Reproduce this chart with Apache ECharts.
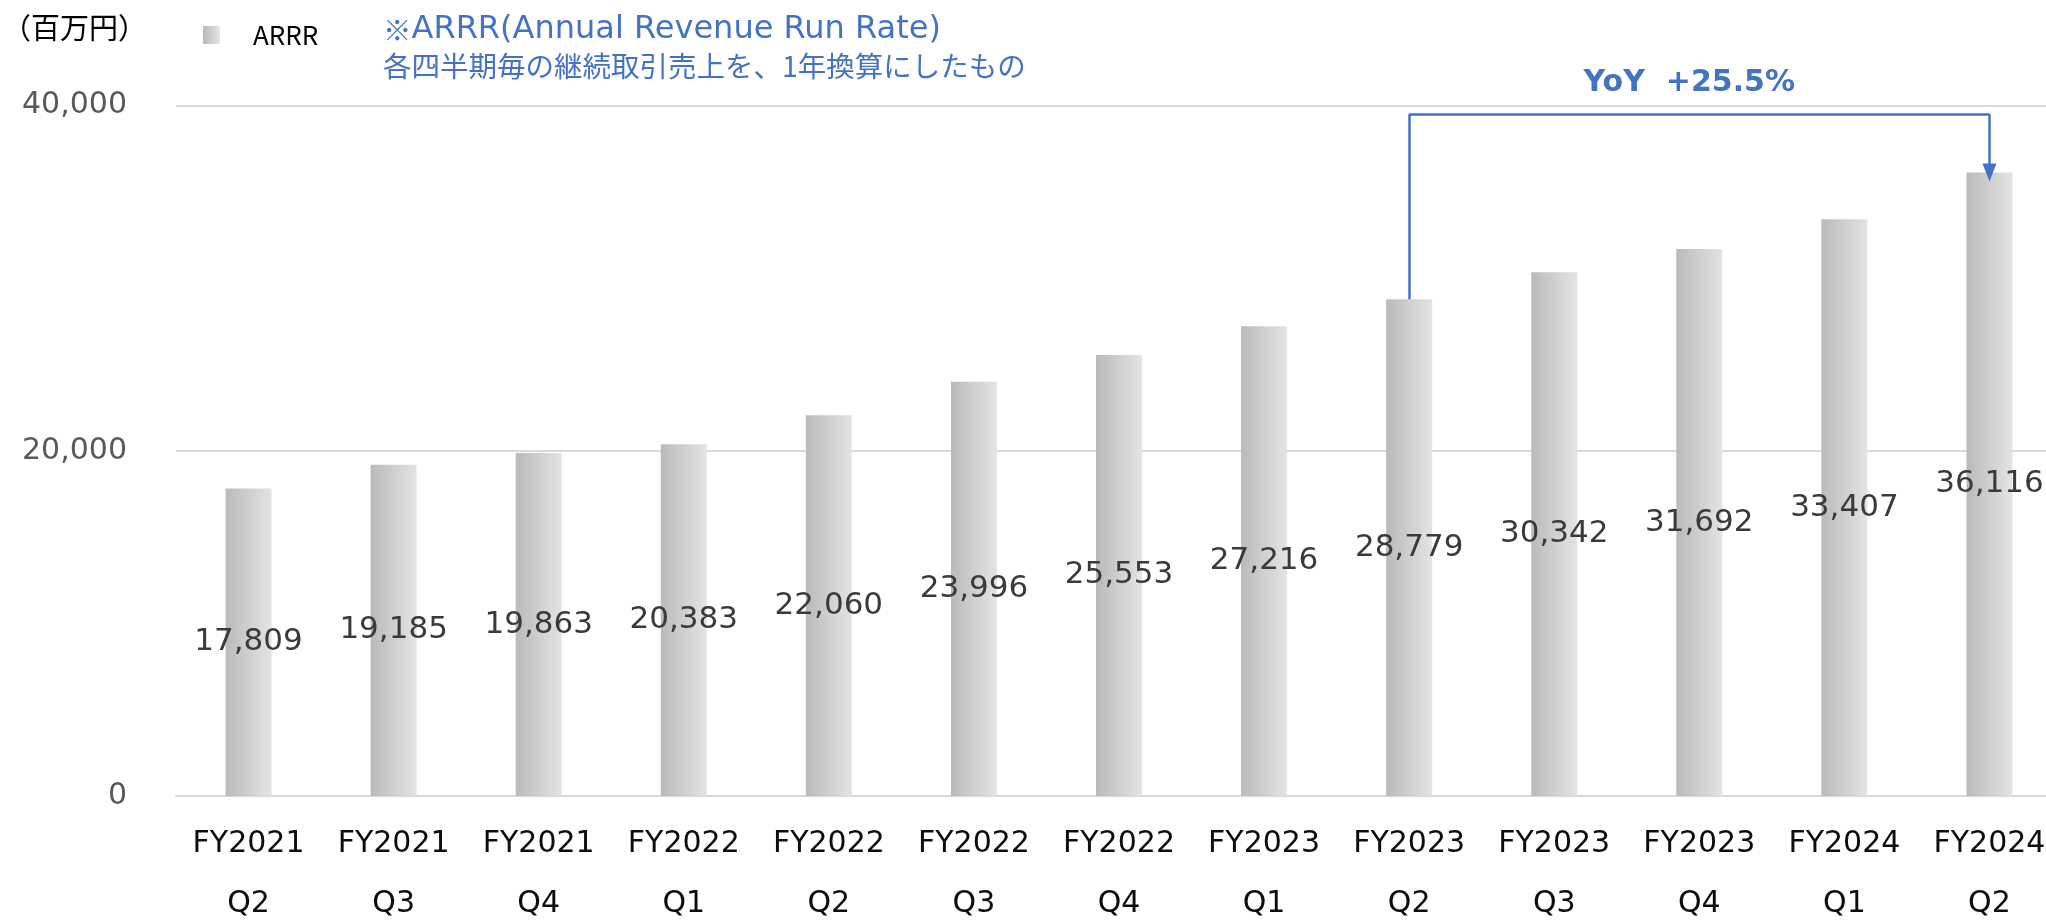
<!DOCTYPE html>
<html>
<head>
<meta charset="utf-8">
<title>ARRR</title>
<script src="https://cdn.jsdelivr.net/npm/echarts@6/dist/echarts.min.js"></script>
<style>
  html, body { margin: 0; padding: 0; background: #fff; }
  #chart { width: 2046px; height: 923px; }
</style>
</head>
<body>
<div id="chart"></div>
<script>
// 四半期
const categories = [
  'FY2021\nQ2', 'FY2021\nQ3', 'FY2021\nQ4',
  'FY2022\nQ1', 'FY2022\nQ2', 'FY2022\nQ3', 'FY2022\nQ4',
  'FY2023\nQ1', 'FY2023\nQ2', 'FY2023\nQ3', 'FY2023\nQ4',
  'FY2024\nQ1', 'FY2024\nQ2'
]
// ARRR（百万円）
const arrr = [17809, 19185, 19863, 20383, 22060, 23996, 25553, 27216, 28779, 30342, 31692, 33407, 36116]
const yTicks = [0, 20000, 40000]

const yoyLabel = 'YoY  +25.5%'
const yoyFrom = 8
const yoyTo = 12
const bracketTop = 39500

const blue = '#4472C4'
const barGradient = new echarts.graphic.LinearGradient(0, 0, 1, 0, [
  { offset: 0, color: '#bababa' },
  { offset: 1, color: '#e4e4e4' }
])

const chart = echarts.init(document.getElementById('chart'))

chart.setOption({
  animation: false,
  title: [
    {
      text: '（百万円）',
      left: -3,
      top: 8,
      textStyle: { fontFamily: 'Noto Sans CJK JP', fontSize: 29, fontWeight: 'normal', color: '#000' }
    },
    {
      // 注記（ラテン文字部分は幅広フォント）
      text: '{j|※}{l|ARRR(Annual Revenue Run Rate)}\n{j|各四半期毎の継続取引売上を、1年換算にしたもの}',
      left: 378,
      top: 7,
      textStyle: {
        fontWeight: 'normal',
        lineHeight: 36,
        rich: {
          j: { fontFamily: 'Noto Sans CJK JP', fontSize: 28.5, fontWeight: 'normal', color: blue, lineHeight: 36 },
          l: { fontFamily: 'DejaVu Sans', fontSize: 32, fontWeight: 'normal', color: blue, lineHeight: 36 }
        }
      }
    }
  ],
  legend: {
    left: 198,
    top: 17,
    itemWidth: 17,
    itemHeight: 18,
    icon: 'rect',
    textStyle: { fontFamily: 'Noto Sans CJK JP', fontSize: 26, color: '#000', padding: [0, 0, 0, 28] },
    data: ['ARRR']
  },
  grid: {
    left: 176,
    right: -16,
    top: 105.5,
    bottom: 127,
    outerBoundsMode: 'none',
    containLabel: false
  },
  xAxis: {
    type: 'category',
    data: categories,
    axisTick: { show: false },
    axisLine: { lineStyle: { color: '#d9d9d9', width: 2 } },
    axisLabel: {
      margin: 18,
      fontFamily: 'DejaVu Sans',
      fontSize: 30,
      lineHeight: 60,
      color: '#0d0d0d',
      interval: 0
    }
  },
  yAxis: {
    type: 'value',
    min: yTicks[0],
    max: yTicks[yTicks.length - 1],
    interval: yTicks[1] - yTicks[0],
    axisLine: { show: false },
    axisTick: { show: false },
    splitLine: { lineStyle: { color: '#d9d9d9', width: 2 } },
    axisLabel: {
      margin: 49,
      fontFamily: 'DejaVu Sans',
      fontSize: 30,
      color: '#595959',
      formatter: v => v.toLocaleString('en-US')
    }
  },
  series: [
    {
      name: 'ARRR',
      type: 'bar',
      data: arrr,
      barWidth: 46,
      itemStyle: { color: barGradient },
      label: {
        show: true,
        position: 'inside',
        fontFamily: 'DejaVu Sans',
        fontSize: 31,
        color: '#3a3a3a',
        formatter: p => p.value.toLocaleString('en-US')
      },
      markLine: {
        silent: true,
        symbol: ['none', 'none'],
        lineStyle: { color: blue, width: 2.5, type: 'solid' },
        label: { show: false },
        data: [
          [
            { coord: [yoyFrom, arrr[yoyFrom]] },
            { coord: [yoyFrom, bracketTop] }
          ],
          [
            { coord: [yoyFrom, bracketTop] },
            {
              coord: [yoyTo, bracketTop],
              label: {
                show: true,
                position: 'middle',
                distance: 16,
                offset: [-10, 0],
                formatter: yoyLabel,
                fontFamily: 'DejaVu Sans',
                fontSize: 30,
                fontWeight: 'bold',
                color: blue
              }
            }
          ],
          [
            { coord: [yoyTo, bracketTop] },
            { coord: [yoyTo, arrr[yoyTo]], symbol: 'triangle', symbolSize: [14, 18] }
          ]
        ]
      }
    }
  ]
})
</script>
</body>
</html>
